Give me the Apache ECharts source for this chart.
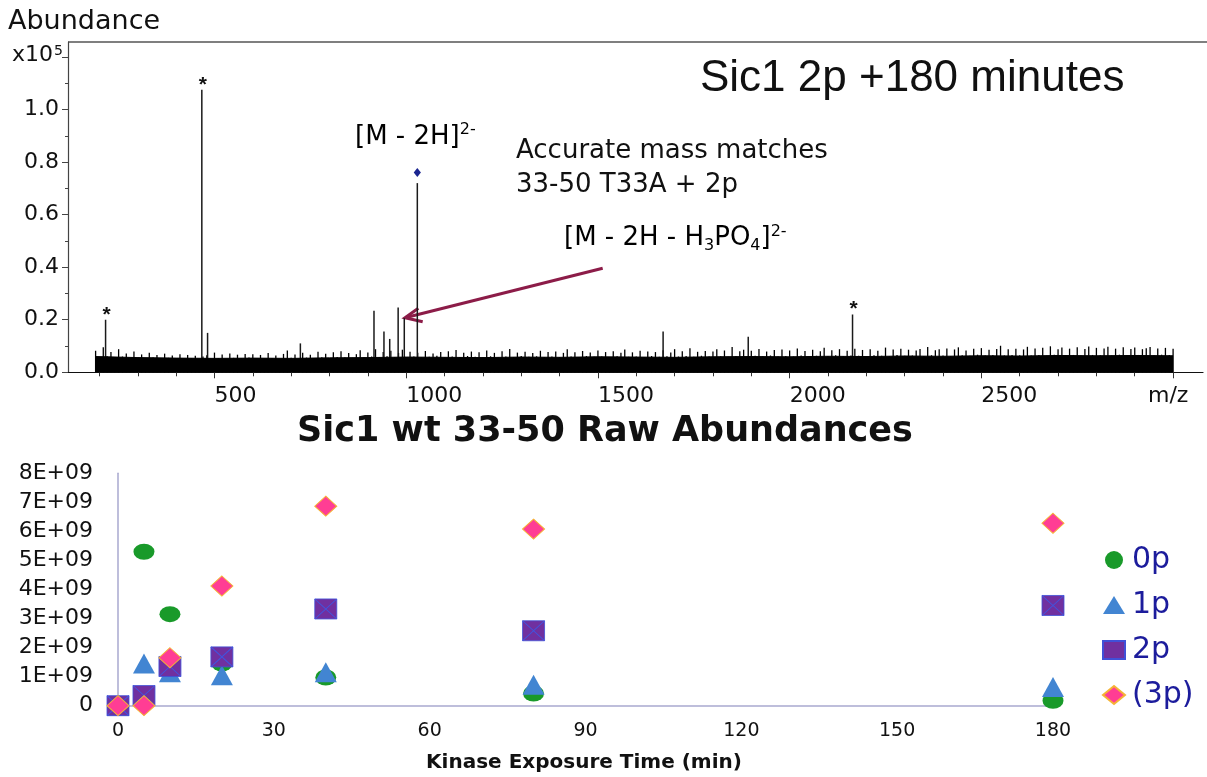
<!DOCTYPE html>
<html><head><meta charset="utf-8">
<script src="https://cdn.jsdelivr.net/npm/echarts@6/dist/echarts.min.js"></script>
<style>html,body{margin:0;padding:0;background:#fff}#c{width:1207px;height:777px}</style>
</head><body><div id="c"></div>
<script>
// ---------- Top panel: mass spectrum (abundance x10^5 vs m/z) ----------
// noise spikes, one every 10 m/z starting at m/z 190
const noiseStartMz = 190;
const noiseStepMz = 10;
const noiseAbund = [
0.082,0.058,0.095,0.061,0.077,0.055,0.088,0.060,0.072,0.053,0.079,0.057,0.068,0.052,0.074,0.056,0.066,0.050,0.071,0.055,
0.064,0.052,0.069,0.050,0.066,0.054,0.063,0.051,0.060,0.065,0.052,0.075,0.054,0.068,0.050,0.072,0.055,0.067,0.053,0.070,
0.056,0.069,0.052,0.066,0.050,0.073,0.054,0.064,0.051,0.070,0.083,0.055,0.068,0.052,0.074,0.056,0.067,0.053,0.078,0.057,
0.071,0.054,0.076,0.058,0.080,0.056,0.073,0.055,0.069,0.084,0.057,0.075,0.060,0.088,0.058,0.077,0.061,0.082,0.057,0.074,
0.086,0.058,0.078,0.060,0.074,0.056,0.081,0.059,0.072,0.063,0.077,0.057,0.080,0.060,0.085,0.058,0.074,0.062,0.079,0.059,
0.076,0.058,0.083,0.061,0.074,0.057,0.080,0.060,0.089,0.058,0.075,0.062,0.078,0.059,0.073,0.061,0.082,0.058,0.077,0.060,
0.079,0.058,0.074,0.088,0.060,0.076,0.057,0.081,0.062,0.075,0.059,0.083,0.060,0.077,0.058,0.080,0.061,0.074,0.087,0.059,
0.076,0.060,0.082,0.058,0.079,0.062,0.077,0.059,0.084,0.061,0.075,0.088,0.060,0.080,0.062,0.092,0.059,0.078,0.063,0.081,
0.060,0.079,0.088,0.061,0.083,0.059,0.096,0.062,0.080,0.086,0.060,0.082,0.063,0.089,0.061,0.079,0.064,0.085,0.060,0.087,
0.062,0.083,0.060,0.091,0.064,0.081,0.061,0.086,0.063,0.080,0.093,0.062,0.084,0.065,0.088,0.061,0.082,0.064,0.090,0.063,
0.085,0.062,0.088,0.065,0.082,0.063,0.094,0.061,0.087,0.066,0.090,0.063,0.086,0.064,0.083,0.089,0.062,0.096,0.065,0.084,
0.088,0.064,0.091,0.062,0.087,0.095,0.065,0.083,0.063,0.090,0.067,0.092,0.064,0.086,0.066,0.089,0.101,0.064,0.088,0.066,
0.090,0.065,0.087,0.097,0.064,0.091,0.066,0.093,0.063,0.099,0.067,0.088,0.094,0.065,0.090,0.066,0.095,0.064,0.089,0.098,
0.066,0.093,0.065,0.091,0.097,0.064,0.090,0.067,0.095,0.065,0.089,0.094,0.066,0.088,0.092,0.096,0.065,0.091,0.067,0.093,
0.066,0.090
];
// solid noise floor (dense baseline) read at coarse m/z positions
const floorMz    = [190, 300, 400, 500, 600, 700, 800, 900, 1000, 1100, 1200, 1300, 1400, 1500, 1600, 1700, 1800, 1900, 2000, 2100, 2200, 2300, 2400, 2500, 2600, 2700, 2800, 2900, 3000];
const floorAbund = [0.060,0.056,0.054,0.053,0.054,0.053,0.055,0.056,0.058,0.057,0.056,0.058,0.057,0.059,0.058,0.057,0.059,0.060,0.059,0.061,0.060,0.062,0.061,0.063,0.062,0.064,0.063,0.064,0.063];
const peakMz    = [216, 467,  482,  724,  916,  942,  957,  979,  995,  1029, 1670, 1892, 2164];
const peakAbund = [0.20,1.075,0.15, 0.11, 0.234,0.155,0.127,0.247,0.206,0.72, 0.155,0.135,0.22];
const peakMark  = ['*', '*',  '',   '',   '',   '',   '',   '',   '',   '◆',  '',   '',   '*'];
const specMzMin = 118, specMzMax = 3078;
const specMzMinorTicks = [200,300,400,500,600,700,800,900,1000,1100,1200,1300,1400,1500,1600,1700,1800,1900,2000,2100,2200,2300,2400,2500,2600,2700,2800,2900,3000];
const specMzMajorTicks = [500,1000,1500,2000,2500,3000];
const specMzLabels = [500,1000,1500,2000,2500];
const specAbundMax = 1.257;
const specAbundMajorTicks = [0,0.2,0.4,0.6,0.8,1.0,1.2];
const specAbundMinorTicks = [0.1,0.3,0.5,0.7,0.9,1.1];
const specAbundLabels = [0,0.2,0.4,0.6,0.8,1.0];

// ---------- Bottom panel: raw abundances vs kinase exposure time ----------
const timeMin  = [0, 5, 10, 20, 40, 80, 180];
const abund0p  = [0, 5.3e9, 3.15e9, 1.45e9, 0.97e9, 0.42e9, 0.17e9];
const abund1p  = [0, 1.45e9, 1.15e9, 1.05e9, 1.15e9, 0.72e9, 0.64e9];
const abund2p  = [0, 0.35e9, 1.35e9, 1.68e9, 3.33e9, 2.58e9, 3.45e9];
const abund3p  = [0, 0, 1.65e9, 4.12e9, 6.87e9, 6.08e9, 6.28e9];
const seriesNames = ['0p', '1p', '2p', '(3p)'];

const DV = '"DejaVu Sans", sans-serif';
const LS = '"Liberation Sans", Arial, sans-serif';

const pairs = (xs, ys) => xs.map((x, i) => [x, ys[i]]);
const noiseData = noiseAbund.map((v, i) => [noiseStartMz + i * noiseStepMz, v]);
const floorData = pairs(floorMz, floorAbund);
const peakData = pairs(peakMz, peakAbund);

const chart = echarts.init(document.getElementById('c'), null, {renderer: 'canvas'});

const annRich = {
  n:   {fontSize: 26, fontFamily: 'DejaVu Sans', color: '#111', lineHeight: 30},
  sub: {fontSize: 16, fontFamily: 'DejaVu Sans', color: '#111', lineHeight: 13, verticalAlign: 'bottom'},
  sup: {fontSize: 16, fontFamily: 'DejaVu Sans', color: '#111', lineHeight: 22, verticalAlign: 'top'}
};

function stickRenderer(color, width, withMarks) {
  return function (params, api) {
    const top = api.coord([api.value(0), api.value(1)]);
    const base = api.coord([api.value(0), 0]);
    const children = [{type: 'line', shape: {x1: top[0], y1: base[1], x2: top[0], y2: top[1]},
                       style: {stroke: color, lineWidth: width}}];
    if (withMarks) {
      const m = peakMark[params.dataIndex];
      if (m === '*') {
        children.push({type: 'text', style: {text: '*', x: top[0] + 1, y: top[1] - 5, align: 'center', verticalAlign: 'middle',
                       font: 'bold 21px ' + LS, fill: '#111'}});
      } else if (m === '◆') {
        const cx = top[0], cy = top[1] - 10.5;
        children.push({type: 'polygon', shape: {points: [[cx, cy - 4.5], [cx + 3.6, cy], [cx, cy + 4.5], [cx - 3.6, cy]]},
                       style: {fill: '#1b2590'}});
      }
    }
    return {type: 'group', children: children};
  };
}

const option = {
  animation: false,
  backgroundColor: '#fff',
  grid: [
    {left: 68, top: 42, width: 1135, height: 330.3, outerBoundsMode: 'none'},
    {left: 118, top: 473.3, width: 935, height: 232.4, outerBoundsMode: 'none'}
  ],
  xAxis: [
    {type: 'value', gridIndex: 0, position: 'bottom', min: specMzMin, max: specMzMax,
     axisLine: {show: true, onZero: false, lineStyle: {color: '#111', width: 1.2}},
     axisTick: {show: true, inside: false, length: 4, customValues: specMzMinorTicks, lineStyle: {color: '#333'}},
     axisLabel: {show: true, customValues: specMzLabels, align: 'left', margin: 13, fontSize: 22, lineHeight: 22,
                 fontFamily: DV, color: '#111', formatter: v => String(v)},
     splitLine: {show: false}},
    {type: 'value', gridIndex: 0, position: 'bottom', min: specMzMin, max: specMzMax,
     axisLine: {show: false},
     axisTick: {show: true, inside: false, length: 6, customValues: specMzMajorTicks, lineStyle: {color: '#333'}},
     axisLabel: {show: false}, splitLine: {show: false}},
    {type: 'value', gridIndex: 1, position: 'bottom', min: 0, max: 180, interval: 30,
     axisLine: {show: true, onZero: false, lineStyle: {color: '#a9a9cf', width: 1.5}},
     axisTick: {show: false},
     axisLabel: {margin: 16, fontSize: 19, lineHeight: 19, fontFamily: DV, color: '#111'},
     splitLine: {show: false}}
  ],
  yAxis: [
    {type: 'value', gridIndex: 0, position: 'left', min: 0, max: specAbundMax,
     axisLine: {show: true, onZero: false, lineStyle: {color: '#444', width: 1.2}},
     axisTick: {show: true, inside: false, length: 6, customValues: specAbundMajorTicks, lineStyle: {color: '#444'}},
     axisLabel: {customValues: specAbundLabels, margin: 9, fontSize: 22, fontFamily: DV, color: '#111',
                 formatter: v => v.toFixed(1)},
     splitLine: {show: false}},
    {type: 'value', gridIndex: 0, position: 'left', min: 0, max: specAbundMax,
     axisLine: {show: false},
     axisTick: {show: true, inside: false, length: 3, customValues: specAbundMinorTicks, lineStyle: {color: '#444'}},
     axisLabel: {show: false}, splitLine: {show: false}},
    {type: 'value', gridIndex: 1, position: 'left', min: 0, max: 8e9, interval: 1e9,
     axisLine: {show: true, onZero: false, lineStyle: {color: '#a9a9cf', width: 1.5}},
     axisTick: {show: false},
     axisLabel: {margin: 25, fontSize: 22, fontFamily: DV, color: '#111',
                 formatter: v => v === 0 ? '0' : Math.round(v / 1e9) + 'E+09'},
     splitLine: {show: false}}
  ],
  legend: {
    data: seriesNames,
    orient: 'vertical', left: 1097, top: 540, itemGap: 15,
    itemWidth: 22, itemHeight: 18,
    textStyle: {fontSize: 30, lineHeight: 30, fontFamily: DV, color: '#1c1c9c', padding: [0, 0, 0, 2]},
    selectedMode: false
  },
  series: [
    {type: 'line', name: 'noise floor', xAxisIndex: 0, yAxisIndex: 0, data: floorData,
     showSymbol: false, symbol: 'none', silent: true,
     lineStyle: {color: '#000', width: 1}, areaStyle: {color: '#000', opacity: 1}},
    {type: 'custom', name: 'noise', xAxisIndex: 0, yAxisIndex: 0, data: noiseData, silent: true,
     renderItem: stickRenderer('#000', 1.3, false)},
    {type: 'custom', name: 'peaks', xAxisIndex: 0, yAxisIndex: 0, data: peakData, silent: true,
     renderItem: stickRenderer('#1a1a1a', 1.5, true)},
    {type: 'scatter', name: '0p', xAxisIndex: 2, yAxisIndex: 2, data: pairs(timeMin, abund0p), clip: false,
     symbol: 'circle', symbolSize: [21, 16], itemStyle: {color: '#199a2a', opacity: 1}},
    {type: 'scatter', name: '1p', xAxisIndex: 2, yAxisIndex: 2, data: pairs(timeMin, abund1p), clip: false,
     symbol: 'triangle', symbolSize: [22, 20], itemStyle: {color: '#4285d2', opacity: 1}},
    {type: 'scatter', name: '2p', xAxisIndex: 2, yAxisIndex: 2, data: pairs(timeMin, abund2p), clip: false,
     symbol: 'rect', symbolSize: [22, 20], itemStyle: {color: '#7030a0', opacity: 1, borderColor: '#4050d8', borderWidth: 0.8}},
    {type: 'scatter', name: '2p-cross', xAxisIndex: 2, yAxisIndex: 2, data: pairs(timeMin, abund2p), clip: false, silent: true,
     symbol: 'path://M0,0L10,10M10,0L0,10', symbolSize: [22, 20],
     itemStyle: {color: 'rgba(0,0,0,0)', opacity: 1, borderColor: '#3f56e0', borderWidth: 1}},
    {type: 'scatter', name: '(3p)', xAxisIndex: 2, yAxisIndex: 2, data: pairs(timeMin, abund3p), clip: false,
     symbol: 'diamond', symbolSize: [22, 20], itemStyle: {color: '#ff3d94', opacity: 1, borderColor: '#f5b335', borderWidth: 1}}
  ],
  graphic: [
    {type: 'line', shape: {x1: 68, y1: 42, x2: 1207, y2: 42}, style: {stroke: '#555', lineWidth: 1.5}},
    {type: 'text', x: 8, y: 22, style: {text: 'Abundance', font: '27px ' + DV, fill: '#111', verticalAlign: 'middle'}},
    {type: 'text', x: 12, y: 55.5, style: {text: 'x10', font: '22px ' + DV, fill: '#111', verticalAlign: 'middle'}},
    {type: 'text', x: 54, y: 51, style: {text: '5', font: '14px ' + DV, fill: '#111', verticalAlign: 'middle'}},
    {type: 'text', x: 700, y: 79, style: {text: 'Sic1 2p +180 minutes', font: '44px ' + LS, fill: '#111', verticalAlign: 'middle'}},
    {type: 'text', x: 355, y: 137, style: {text: '{n|[M - 2H]}{sup|2-}', rich: annRich, verticalAlign: 'middle'}},
    {type: 'text', x: 516, y: 151, style: {text: 'Accurate mass matches', font: '26px ' + DV, fill: '#111', verticalAlign: 'middle'}},
    {type: 'text', x: 516, y: 185.5, style: {text: '33-50 T33A + 2p', font: '26px ' + DV, fill: '#111', verticalAlign: 'middle'}},
    {type: 'text', x: 564, y: 238.5, style: {text: '{n|[M - 2H - H}{sub|3}{n|PO}{sub|4}{n|]}{sup|2-}', rich: annRich, verticalAlign: 'middle'}},
    {type: 'polyline', shape: {points: [[602.7, 268.3], [406, 317.5]]}, style: {stroke: '#8c1c48', lineWidth: 3, fill: null}},
    {type: 'polyline', shape: {points: [[418.3, 308.3], [405, 317.7], [422.7, 321.7]]}, style: {stroke: '#8c1c48', lineWidth: 3, fill: null, lineJoin: 'miter'}},
    {type: 'text', x: 1148, y: 396, style: {text: 'm/z', font: '22px ' + DV, fill: '#111', verticalAlign: 'middle'}},
    {type: 'text', x: 605, y: 432, style: {text: 'Sic1 wt 33-50 Raw Abundances', font: 'bold 35px ' + DV, fill: '#111', align: 'center', verticalAlign: 'middle'}},
    {type: 'text', x: 584, y: 763, style: {text: 'Kinase Exposure Time (min)', font: 'bold 20px ' + DV, fill: '#111', align: 'center', verticalAlign: 'middle'}}
  ]
};
chart.setOption(option);
</script>
</body></html>
